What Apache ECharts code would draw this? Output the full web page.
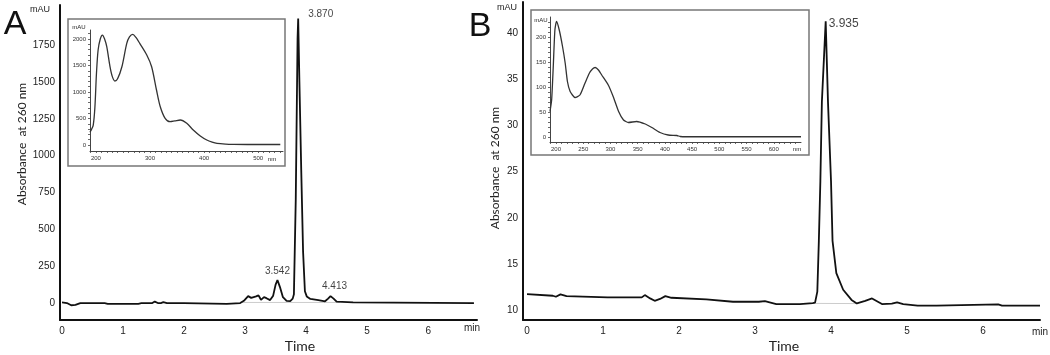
<!DOCTYPE html>
<html>
<head>
<meta charset="utf-8">
<title>HPLC chromatograms</title>
<script src="https://cdn.jsdelivr.net/npm/echarts@6/dist/echarts.min.js"></script>
<style>
    html, body { margin: 0; padding: 0; background: #fff; }
    #chart { width: 1050px; height: 355px; }
</style>
</head>
<body>
<div id="chart"></div>
<script>
// chromatogram A  [time (min), absorbance (mAU)]
const chromA = [
    [0, 5], [0.08, 0], [0.15, -15], [0.22, -12], [0.3, 0], [0.7, 0], [0.75, -5], [1.25, -5], [1.3, 0],
    [1.48, 0], [1.52, 10], [1.57, 0], [1.62, 0], [1.66, 6], [1.72, 0], [2.0, 0], [2.02, -5], [2.7, -5],
    [2.72, 0], [2.92, 0], [2.98, 15], [3.05, 47], [3.1, 35], [3.13, 27], [3.18, 45], [3.22, 52], [3.26, 22],
    [3.31, 40], [3.35, 33], [3.41, 20], [3.46, 50], [3.5, 125], [3.53, 156], [3.57, 110], [3.62, 40],
    [3.68, 15], [3.74, 13], [3.78, 30], [3.8, 60], [3.83, 700], [3.86, 1800], [3.87, 1930], [3.89, 1500],
    [3.92, 900], [3.95, 350], [3.98, 80], [4.01, 45], [4.07, 28], [4.2, 20], [4.31, 12], [4.36, 30],
    [4.4, 47], [4.45, 30], [4.5, 9], [4.77, 5], [4.8, 0], [6.75, 0]
];

// chromatogram B
const chromB = [
    [0, 11.73], [0.34, 11.55], [0.38, 11.44], [0.44, 11.7], [0.52, 11.51], [1.06, 11.37], [1.51, 11.37],
    [1.55, 11.62], [1.62, 11.26], [1.68, 11.0], [1.75, 11.2], [1.82, 11.51], [1.9, 11.33], [2.36, 11.15],
    [2.71, 10.9], [3.05, 10.9], [3.13, 10.97], [3.28, 10.65], [3.59, 10.65], [3.76, 10.75], [3.79, 10.8],
    [3.82, 12], [3.84, 17.5], [3.86, 24], [3.88, 32.6], [3.93, 41.3], [3.96, 32.6], [4.0, 24], [4.02, 17.5],
    [4.07, 14], [4.16, 12.2], [4.27, 11.1], [4.34, 10.72], [4.45, 11.0], [4.54, 11.26], [4.67, 10.65],
    [4.8, 10.7], [4.87, 10.83], [4.95, 10.65], [5.14, 10.47], [5.39, 10.47], [5.41, 10.61], [6.2, 10.61],
    [6.25, 10.47], [6.75, 10.47]
];

// UV spectra of the main peaks [wavelength (nm), mAU]
const spectrumA = [
    [189, 240], [192, 300], [195, 377], [198, 700], [201, 1358], [204, 1792], [208, 2000], [212, 2075],
    [216, 2000], [220, 1855], [226, 1477], [230, 1300], [235, 1208], [240, 1250], [248, 1477], [257, 1918],
    [262, 2040], [268, 2088], [274, 2030], [281, 1918], [294, 1698], [303, 1477], [312, 1038], [319, 723],
    [328, 503], [337, 440], [346, 455], [356, 472], [368, 409], [380, 283], [393, 170], [405, 94],
    [415, 55], [424, 32], [440, 18], [454, 13], [480, 10], [541, 10]
];
const spectrumB = [
    [189, 51], [192, 74], [195, 141], [198, 214], [201, 231], [206, 214], [212, 181], [217, 147],
    [221, 111], [226, 91], [235, 79], [244, 84], [253, 107], [261, 127], [267, 136], [272, 139],
    [278, 134], [284, 124], [296, 104], [305, 81], [315, 51], [324, 34], [333, 29], [348, 31],
    [364, 26], [376, 19], [391, 9], [406, 4], [422, 3], [428, 1], [440, 0.5], [650, 0.5]
];

// integration baselines (light grey)
const baseA = [[2.95, 4], [4.55, 4]];
const baseB = [[3.78, 10.72], [4.36, 10.7]];

// peak labels [time, mAU, text]
const peaksA = [[3.87, 1930, '3.870'], [3.53, 156, '3.542'], [4.4, 47, '4.413']];
const peaksB = [[3.93, 41.3, '3.935']];

// tick labels
const timeTicks = [0, 1, 2, 3, 4, 5, 6];
const yTicksA = [0, 250, 500, 750, 1000, 1250, 1500, 1750];
const yTicksB = [10, 15, 20, 25, 30, 35, 40];
const nmTicksA = [200, 300, 400, 500];
const auTicksA = [0, 500, 1000, 1500, 2000];
const nmTicksB = [200, 250, 300, 350, 400, 450, 500, 550, 600];
const auTicksB = [0, 50, 100, 150, 200];

window.addEventListener('DOMContentLoaded', () => {
    const myChart = echarts.init(document.getElementById('chart'));

    const range = (a, b, step) => {
        const out = [];
        for (let v = a; v <= b; v += step) out.push(v);
        return out;
    };
    const plain = v => String(v);  // no thousands separator

    // big chromatogram axes
    function mainX(idx, min, max) {
        return {
            type: 'value', gridIndex: idx, min: min, max: max,
            axisLine: { show: true, onZero: false, lineStyle: { color: '#111', width: 2 } },
            axisTick: { show: false },
            splitLine: { show: false },
            axisLabel: { customValues: timeTicks, formatter: plain, fontSize: 10, margin: 6, color: '#222', fontFamily: 'Liberation Sans' }
        };
    }
    function mainY(idx, min, max, ticks) {
        return {
            type: 'value', gridIndex: idx, min: min, max: max,
            axisLine: { show: true, onZero: false, lineStyle: { color: '#111', width: 2 } },
            axisTick: { show: false },
            splitLine: { show: false },
            axisLabel: { customValues: ticks, formatter: plain, fontSize: 10, margin: 5, color: '#222', fontFamily: 'Liberation Sans' }
        };
    }
    // small inset axes
    function insetAxis(idx, min, max, labels, ticks) {
        return {
            type: 'value', gridIndex: idx, min: min, max: max,
            axisLine: { show: true, onZero: false, lineStyle: { color: '#444', width: 1 } },
            axisTick: { show: true, customValues: ticks, length: 2, lineStyle: { color: '#444', width: 0.8 } },
            splitLine: { show: false },
            axisLabel: { customValues: labels, formatter: plain, fontSize: 6, margin: 4, color: '#333', fontFamily: 'Liberation Sans' }
        };
    }

    function trace(idx, data, color, width, smooth) {
        return {
            type: 'line', xAxisIndex: idx, yAxisIndex: idx, data: data,
            symbol: 'none', smooth: smooth, silent: true, z: 3,
            lineStyle: { color: color, width: width }
        };
    }

    function peakLabels(idx, peaks, opts) {
        return {
            type: 'scatter', xAxisIndex: idx, yAxisIndex: idx, symbolSize: 0, silent: true, z: 4,
            data: peaks.map((p, i) => ({
                value: [p[0], p[1]],
                name: p[2],
                label: Object.assign({
                    show: true, formatter: '{b}', color: '#111', fontFamily: 'Liberation Sans'
                }, opts[i])
            }))
        };
    }

    const txt = (x, y, text, size, extra) => ({
        type: 'text', x: x, y: y, z: 10,
        style: Object.assign({
            text: text, fontSize: size, fill: '#222', fontFamily: 'Liberation Sans',
            align: 'center', verticalAlign: 'middle'
        }, extra || {})
    });

    const option = {
        animation: false,
        grid: [
            { left: 60, top: 5, width: 417, height: 315 },
            { left: 523, top: 2, width: 517, height: 318 },
            { left: 90, top: 30, width: 193, height: 121 },
            { left: 550, top: 17, width: 251, height: 125 }
        ],
        xAxis: [
            mainX(0, -0.033, 6.8),
            mainX(1, -0.053, 6.75),
            insetAxis(2, 189, 546, nmTicksA, range(190, 540, 10)),
            insetAxis(3, 189, 650, nmTicksB, range(190, 640, 10))
        ],
        yAxis: [
            mainY(0, -115, 2022, yTicksA),
            mainY(1, 8.92, 43.4, yTicksB),
            insetAxis(2, -113, 2170, auTicksA, range(0, 2100, 100)),
            insetAxis(3, -10, 240, auTicksB, range(0, 230, 10))
        ],
        series: [
            trace(0, baseA, '#ccc', 1, false),
            trace(1, baseB, '#ccc', 1, false),
            trace(0, chromA, '#111', 1.8, false),
            trace(1, chromB, '#111', 1.8, false),
            trace(2, spectrumA, '#333', 1.3, 0.3),
            trace(3, spectrumB, '#333', 1.3, 0.2),
            peakLabels(0, peaksA, [
                { position: 'right', distance: 10, offset: [0, -4], fontSize: 10 },
                { position: 'top', distance: 4, fontSize: 10 },
                { position: 'top', distance: 5, offset: [4, 0], fontSize: 10 }
            ]),
            peakLabels(1, peaksB, [
                { position: 'right', distance: 3, offset: [0, 2], fontSize: 12 }
            ])
        ],
        graphic: [
            // inset frames
            { type: 'rect', shape: { x: 68, y: 19, width: 217, height: 147 }, z: 1,
              style: { fill: 'transparent', stroke: '#777', lineWidth: 1.5 } },
            { type: 'rect', shape: { x: 531, y: 10, width: 278, height: 145 }, z: 1,
              style: { fill: 'transparent', stroke: '#777', lineWidth: 1.5 } },
            txt(15, 25, 'A', 34, { fill: '#111' }),
            txt(480, 27, 'B', 34, { fill: '#111' }),
            txt(40, 10, 'mAU', 9),
            txt(507, 8, 'mAU', 9),
            txt(79, 27, 'mAU', 6),
            txt(541, 20, 'mAU', 6),
            txt(272, 159, 'nm', 6),
            txt(797, 149, 'nm', 6),
            txt(472, 328, 'min', 10),
            txt(1040, 332, 'min', 10),
            txt(300, 346, 'Time', 14, { fontFamily: 'Lato' }),
            txt(784, 346, 'Time', 14, { fontFamily: 'Lato' }),
            Object.assign(txt(22, 144, 'Absorbance  at 260 nm', 12, { fontFamily: 'Lato' }), { rotation: Math.PI / 2 }),
            Object.assign(txt(495, 168, 'Absorbance  at 260 nm', 12, { fontFamily: 'Lato' }), { rotation: Math.PI / 2 })
        ]
    };

    myChart.setOption(option);
});
</script>
</body>
</html>
